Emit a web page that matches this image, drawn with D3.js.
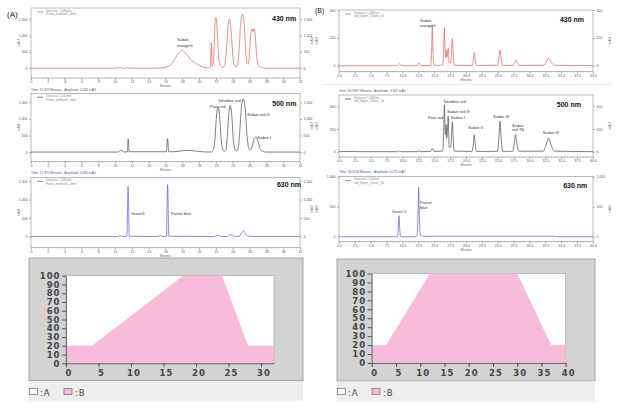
<!DOCTYPE html>
<html><head><meta charset="utf-8">
<script src="https://cdn.jsdelivr.net/npm/d3@7"></script>
<style>body{margin:0;background:#fff}svg{display:block}</style>
</head><body><svg id="c" width="620" height="403"></svg>
<script>
// ---------------- DATA ----------------
const tickA_x = [0,2,4,6,8,10,12,14,16,18,20,22,24,26,28,30,32];
const tickB_x = [0,2.5,5,7.5,10,12.5,15,17.5,20,22.5,25,27.5,30,32.5,35,37.5,40];
const tickA_y = [0,500,1000,1500];
const tickB430_y = [0,200,400];
const tickB500_y = [0,200,400];
const tickB630_y = [0,500,1000];
const wavelengths = ["430 nm","500 nm","630 nm"];

// chromatogram traces: [minutes, mAU]
const traceA430 = [[0,0],[10.1,0],[10.5,25],[10.9,0],[11.3,0],[11.5,35],[11.7,0],
 [15,0],[16,30],[16.8,150],[17.4,400],[18.0,550],[18.5,430],[19.0,260],[19.5,170],[20.0,90],[20.5,30],[21.1,10],
 [21.33,30],[21.45,780],[21.55,60],[21.62,80],[21.75,400],[21.85,1150],[22.0,1550],[22.15,1150],[22.3,400],[22.5,80],[22.8,30],
 [23.05,80],[23.2,400],[23.4,1150],[23.6,1500],[23.8,1150],[24.0,400],[24.2,80],[24.4,40],
 [24.6,150],[24.77,600],[24.95,1400],[25.15,1650],[25.35,1400],[25.53,600],[25.7,150],[25.85,120],
 [25.97,350],[26.12,1000],[26.3,1200],[26.42,1120],[26.55,1210],[26.7,900],[26.85,350],[27.05,80],[27.4,20],[27.8,0],[32,0]];
const traceA500 = [[0,0],[10.3,0],[10.7,50],[11.1,0],[11.45,10],[11.56,400],[11.68,10],[16.1,10],[16.25,400],[16.38,10],
 [17,10],[18,40],[18.8,50],[19.6,30],[20.5,5],[21.4,0],
 [21.7,80],[21.9,450],[22.05,1050],[22.25,1350],[22.45,1050],[22.6,450],[22.8,80],[23.0,20],
 [23.2,80],[23.35,450],[23.5,1050],[23.7,1400],[23.9,1050],[24.05,450],[24.25,80],[24.45,30],
 [24.65,120],[24.8,500],[25.0,1250],[25.25,1600],[25.5,1250],[25.7,500],[25.9,120],[26.1,60],
 [26.3,150],[26.5,380],[26.75,450],[27.0,330],[27.25,110],[27.6,20],[28,0],[32,0]];
const traceA630 = [[0,0],[10.3,0],[10.6,30],[10.9,0],[11.4,10],[11.55,1350],[11.7,10],[15.1,0],[15.4,30],[15.7,0],
 [16.1,10],[16.25,1400],[16.4,10],
 [21.8,0],[22.2,40],[22.6,5],[23.3,0],[23.75,50],[24.2,5],[24.8,10],[25.05,100],[25.3,150],[25.55,60],[25.9,10],[26.5,0],[32,0]];
const traceB430 = [[0,0],[9.2,0],[9.5,15],[9.8,0],[12.3,0],[12.6,20],[12.9,0],[14.45,2],[14.6,120],[14.7,290],[14.8,120],[14.95,2],
 [16.35,5],[16.5,150],[16.6,274],[16.7,120],[16.78,60],[16.9,112],[16.98,60],[17.05,70],[17.2,124],[17.35,20],[17.6,20],[17.75,120],[17.85,195],[17.95,120],[18.15,3],
 [21.0,2],[21.15,40],[21.3,95],[21.45,40],[21.65,2],
 [25.0,3],[25.2,60],[25.35,112],[25.5,60],[25.75,3],
 [27.4,2],[27.65,25],[27.85,40],[28.05,25],[28.4,2],
 [32.2,3],[32.6,25],[33.0,52],[33.4,25],[33.9,3],[40,0]];
const traceB500 = [[0,0],[2.5,3],[3.2,0],[9.2,0],[9.5,6],[9.8,0],[12.3,0],[12.6,8],[12.9,0],[14.4,2],[14.7,30],[15.0,2],
 [16.35,5],[16.5,230],[16.6,414],[16.7,200],[16.78,150],[16.87,238],[16.97,120],[17.05,160],[17.2,312],[17.35,40],[17.6,40],[17.75,170],[17.85,262],[17.95,150],[18.15,5],
 [20.95,2],[21.15,70],[21.3,150],[21.45,70],[21.65,2],
 [24.95,3],[25.18,130],[25.35,268],[25.52,130],[25.8,3],
 [27.35,3],[27.6,75],[27.8,150],[28.0,75],[28.35,3],
 [32.2,5],[32.6,60],[33.0,120],[33.4,60],[33.9,5],[40,0]];
const traceB630 = [[0,0],[9.2,0],[9.35,150],[9.45,350],[9.55,150],[9.7,0],[12.1,0],[12.3,30],[12.45,400],[12.55,822],[12.65,350],[12.85,20],[13.3,5],[14.5,8],[34,8],[34.3,0],[40,0]];

// peak labels: [text, minutes, mAU]
const lblA430 = [["Sudan",17.37,816],["orangeG",17.37,663]];
const lblA500 = [["Para red",21.3,1327],["Toluidine red",22.25,1508],["Sudan red G",25.7,1101],["Sudan I",26.9,379]];
const lblA630 = [["Green3",11.9,582],["Patent blue",16.65,582]];
const lblB430 = [["Sudan",12.75,317],["orangeG",12.75,281]];
const lblB500 = [["Para red",14.0,284],["Toluidine red",16.4,429],["Sudan red G",17.0,341],["Sudan I",17.65,284],["Sudan II",20.3,196],["Sudan III",24.25,293],["Sudan",27.25,218],["red 7B",27.25,182],["Sudan IV",32.1,156]];
const lblB630 = [["Green 5",8.35,395],["Patent",12.75,553],["blue",12.75,470]];

// gradient programs: time (min) vs %B
const gradA_time = [0,4,18,24,28,32];
const gradA_B = [20,20,100,100,20,20];
const gradB_time = [0,3,12,30,37,40];
const gradB_B = [20,20,100,100,20,20];
const tickGrad_y = [0,10,20,30,40,50,60,70,80,90,100];
const tickGradA_x = [0,5,10,15,20,25,30];
const tickGradB_x = [0,5,10,15,20,25,30,35,40];

// ---------------- DRAW ----------------
const svg = d3.select("#c");
const FONT = '"Liberation Sans", Arial, sans-serif';
const RED = "#e06868", GRAY = "#555", BLUE = "#6464d8";

function txt(g, x, y, s, size, opt = {}) {
  return g.append("text").attr("x", x).attr("y", y).text(s)
    .attr("font-size", size).attr("font-family", FONT)
    .attr("fill", opt.fill || "#444").attr("font-weight", opt.bold ? "bold" : null)
    .attr("text-anchor", opt.anchor || "start");
}

function chrom(o) {
  const g = svg.append("g");
  const x = d3.scaleLinear().domain(o.xd).range([o.L, o.R]);
  const y = d3.scaleLinear().domain(o.yd).range([o.B, o.T]);
  g.append("rect").attr("x", o.L).attr("y", o.T).attr("width", o.R - o.L).attr("height", o.B - o.T)
    .attr("fill", "#fff").attr("stroke", "#777").attr("stroke-width", 0.5);
  const st = s => {
    s.select(".domain").remove();
    s.selectAll("line").attr("stroke", "#666").attr("stroke-width", 0.5);
    s.selectAll("text").attr("font-size", 3.5).attr("fill", "#555").attr("font-family", FONT);
  };
  g.append("g").attr("transform", `translate(0,${o.B})`)
    .call(d3.axisBottom(x).tickValues(o.xt).tickSize(2).tickPadding(1).tickFormat(o.xf)).call(st);
  g.append("g").selectAll("line").data(d3.range(o.xd[0], o.xd[1] + 1e-6, o.minor)).join("line")
    .attr("x1", d => x(d)).attr("x2", d => x(d)).attr("y1", o.B).attr("y2", o.B + 1)
    .attr("stroke", "#888").attr("stroke-width", 0.4);
  g.append("g").attr("transform", `translate(${o.L},0)`)
    .call(d3.axisLeft(y).tickValues(o.yt).tickSize(2).tickPadding(1.5)).call(st);
  g.append("g").attr("transform", `translate(${o.R},0)`)
    .call(d3.axisRight(y).tickValues(o.yt).tickSize(2).tickPadding(1.5)).call(st);
  g.append("path").datum(o.data)
    .attr("d", d3.line().x(d => x(d[0])).y(d => y(d[1])).curve(d3.curveMonotoneX))
    .attr("fill", "none").attr("stroke", o.color).attr("stroke-width", 0.75);
  o.labels.forEach(l => txt(g, x(l[1]), y(l[2]), l[0], 4, { fill: "#333" }));
  txt(g, x(o.nm[1]), y(o.nm[2]), o.nm[0], 7, { bold: true, fill: "#111" });
  // legend
  g.append("line").attr("x1", o.L + 6).attr("x2", o.L + 12).attr("y1", o.T + 4).attr("y2", o.T + 4)
    .attr("stroke", o.color).attr("stroke-width", 0.8);
  txt(g, o.L + 15, o.T + 3.6, o.leg[0], 3.2, { fill: "#888" });
  txt(g, o.L + 15, o.T + 7.4, o.leg[1], 3.2, { fill: "#888" });
  txt(g, (o.L + o.R) / 2, o.B + 9, "Minutes", 3.2, { anchor: "middle", fill: "#666" });
  o.ylab.forEach(p => g.append("text").attr("transform", `translate(${p},${(o.T + o.B) / 2}) rotate(-90)`)
    .attr("text-anchor", "middle").attr("font-size", 3.4).attr("font-family", FONT).attr("fill", "#666").text("mAU"));
}

const fA = d3.format("d"), fB = d3.format(".1f");
chrom({ L: 31, R: 300, T: 8, B: 78, xd: [0, 32], yd: [-300, 1840], xt: tickA_x, xf: fA, minor: 0.5, yt: tickA_y,
  data: traceA430, color: RED, labels: lblA430, nm: [wavelengths[0], 28.67, 1443],
  leg: ["Detector 1-430nm", "Fiona_method1_Dmt"], ylab: [20] });
chrom({ L: 31, R: 300, T: 93.3, B: 161.7, xd: [0, 32], yd: [-290, 1770], xt: tickA_x, xf: fA, minor: 0.5, yt: tickA_y,
  data: traceA500, color: GRAY, labels: lblA500, nm: [wavelengths[1], 28.7, 1388],
  leg: ["Detector 1-500nm", "Fiona_method1_Dmt"], ylab: [20] });
chrom({ L: 31, R: 300, T: 177.3, B: 247.7, xd: [0, 32], yd: [-300, 1600], xt: tickA_x, xf: fA, minor: 0.5, yt: tickA_y,
  data: traceA630, color: BLUE, labels: lblA630, nm: [wavelengths[2], 29.26, 1338],
  leg: ["Detector 1-630nm", "Fiona_method1_Dmt"], ylab: [20] });
chrom({ L: 339, R: 593, T: 10, B: 71.7, xd: [0, 40], yd: [-43, 400], xt: tickB_x, xf: fB, minor: 0.5, yt: tickB430_y,
  data: traceB430, color: RED, labels: lblB430, nm: [wavelengths[0], 34.8, 314],
  leg: ["Detector 1-430nm", "std_5ppm_15min_1d"], ylab: [313, 318, 611] });
chrom({ L: 339, R: 593, T: 95, B: 157, xd: [0, 40], yd: [-47, 500], xt: tickB_x, xf: fB, minor: 0.5, yt: tickB500_y,
  data: traceB500, color: GRAY, labels: lblB500, nm: [wavelengths[1], 34.3, 394],
  leg: ["Detector 1-500nm", "std_5ppm_15min_1d"], ylab: [313, 318, 611] });
chrom({ L: 339, R: 593, T: 176.7, B: 241.7, xd: [0, 40], yd: [-83, 1000], xt: tickB_x, xf: fB, minor: 0.5, yt: tickB630_y,
  data: traceB630, color: BLUE, labels: lblB630, nm: [wavelengths[2], 35.3, 820],
  leg: ["Detector 1-630nm", "std_5ppm_15min_1d"], ylab: [313, 318, 611] });

// panel letters and status lines
txt(svg, 7, 17, "(A)", 8, { fill: "#222" });
txt(svg, 315, 13, "(B)", 7, { fill: "#222" });
txt(svg, 31, 90.5, "Time: 21.872 Minutes - Amplitude: 0.242 mAU", 3.2, { fill: "#555" });
txt(svg, 31, 174, "Time: 21.872 Minutes - Amplitude: 0.365 mAU", 3.2, { fill: "#4050c0" });
txt(svg, 339, 91.5, "Time: 30.9967 Minutes - Amplitude: 0.162 mAU", 3.2, { fill: "#555" });
txt(svg, 339, 172.5, "Time: 30.9118 Minutes - Amplitude: 0.275 mAU", 3.2, { fill: "#4050c0" });
svg.append("line").attr("x1", 322).attr("x2", 612).attr("y1", 84.5).attr("y2", 84.5).attr("stroke", "#ddd").attr("stroke-width", 0.6);

function grad(o) {
  const g = svg.append("g");
  g.append("rect").attr("x", o.bx).attr("y", o.by).attr("width", o.bw).attr("height", o.bh)
    .attr("fill", "#d3d3d3").attr("stroke", "#a5a5a5").attr("stroke-width", 1);
  g.append("rect").attr("x", o.bx).attr("y", o.by + o.bh + 0.5).attr("width", o.bw).attr("height", 20)
    .attr("fill", "#eeeeee");
  const x = d3.scaleLinear().domain(o.xd).range([o.L, o.R]);
  const y = d3.scaleLinear().domain([0, 100]).range([o.B, o.T]);
  g.append("rect").attr("x", o.L).attr("y", o.T).attr("width", o.R - o.L).attr("height", o.B - o.T)
    .attr("fill", "#fff").attr("stroke", "#9a9a9a").attr("stroke-width", 0.6);
  g.append("path").datum(o.vals)
    .attr("d", d3.area().x((d, i) => x(o.time[i])).y0(y(0)).y1(d => y(d)))
    .attr("fill", "#f8bcd9");
  const st = s => {
    s.select(".domain").attr("stroke", "#555").attr("stroke-width", 0.8);
    s.selectAll("line").attr("stroke", "#444").attr("stroke-width", 0.9);
    s.selectAll("text").attr("font-size", 8.5).attr("font-weight", "bold").attr("fill", "#444")
      .attr("font-family", '"DejaVu Sans", sans-serif').attr("letter-spacing", 1);
  };
  g.append("g").attr("transform", `translate(${o.L},0)`)
    .call(d3.axisLeft(y).tickValues(tickGrad_y).tickSize(4).tickSizeOuter(0).tickPadding(1.5)).call(st);
  g.append("g").attr("transform", `translate(0,${o.B})`)
    .call(d3.axisBottom(x).tickValues(o.xt).tickSize(4).tickSizeOuter(0).tickPadding(2.5)).call(st)
    .selectAll("text").attr("dx", 2.5);
  // legend
  g.append("rect").attr("x", o.bx + 0.5).attr("y", 388.5).attr("width", 8).attr("height", 6)
    .attr("fill", "#fff").attr("stroke", "#666").attr("stroke-width", 0.7);
  g.append("text").attr("x", o.bx + 11).attr("y", 396).text(":A").attr("font-size", 8.5)
    .attr("font-family", '"DejaVu Sans", sans-serif').attr("fill", "#444").attr("letter-spacing", 1);
  g.append("rect").attr("x", o.bx + 35).attr("y", 388.5).attr("width", 8).attr("height", 6)
    .attr("fill", "#f8bcd9").attr("stroke", "#666").attr("stroke-width", 0.7);
  g.append("text").attr("x", o.bx + 46).attr("y", 396).text(":B").attr("font-size", 8.5)
    .attr("font-family", '"DejaVu Sans", sans-serif').attr("fill", "#444").attr("letter-spacing", 1);
}
grad({ bx: 29, by: 258, bw: 274, bh: 122.5, L: 66, R: 274, T: 275.7, B: 363.3, xd: [0, 32], xt: tickGradA_x,
  time: gradA_time, vals: gradA_B });
grad({ bx: 337, by: 259, bw: 258, bh: 122, L: 371.7, R: 565.7, T: 273.5, B: 363, xd: [0, 40], xt: tickGradB_x,
  time: gradB_time, vals: gradB_B });
</script></body></html>
